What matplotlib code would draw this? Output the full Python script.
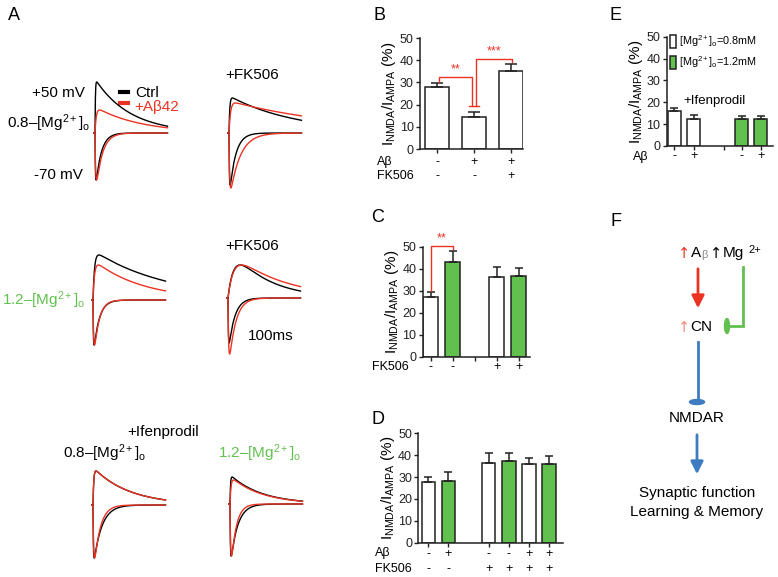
import numpy as np
import matplotlib
matplotlib.use("Agg")
import matplotlib.pyplot as plt
from matplotlib.patches import Ellipse, FancyArrowPatch

plt.rcParams['font.family'] = ['Liberation Sans', 'DejaVu Sans']
plt.rcParams['mathtext.fontset'] = 'custom'
plt.rcParams['mathtext.rm'] = 'Liberation Sans'
plt.rcParams['mathtext.it'] = 'Liberation Sans:italic'
plt.rcParams['mathtext.default'] = 'regular'

W, H = 778, 577
RED = '#ea3323'
GREEN = '#62c04f'
BLUE = '#3d7cc0'
EDGE = '#222222'

# ---- panel A: EPSC traces (peak amplitude, rise and decay in ms) ----
# order: 0.8 Mg, 0.8 Mg+FK506, 1.2 Mg, 1.2 Mg+FK506, 0.8 Mg+Ifen, 1.2 Mg+Ifen
out_amp_ctrl = [51, 35, 45, 33, 34, 27]
out_amp_ab = [23, 30, 35, 33, 34, 24]
out_rise_ctrl = [1.5, 3, 6, 22, 3, 2]
out_rise_ab = [5, 6, 6, 22, 3, 4]
out_decay_ctrl = [140, 270, 300, 140, 144, 125]
out_decay_ab = [180, 460, 195, 200, 144, 125]
in_amp_ctrl = [-47, -52, -45, -45, -53, -52]
in_amp_ab = [-47, -55, -45, -56, -53, -52]
in_decay_ctrl = [22, 24, 22, 24, 32, 28]
in_decay_ab = [25, 40, 20, 26, 24, 20]

# ---- panel B ----
b_vals = [27.8, 14.3, 35.3]
b_errs = [1.9, 2.4, 3.0]
b_abeta = ['-', '+', '+']
b_fk = ['-', '-', '+']

# ---- panel C ----
c_vals = [27.4, 43.0, 36.1, 36.6]
c_errs = [2.0, 5.3, 4.6, 3.8]
c_fk = ['-', '-', '+', '+']

# ---- panel D ----
d_vals = [27.9, 28.4, 36.6, 37.2, 35.8, 35.8]
d_errs = [2.0, 4.1, 4.6, 3.7, 2.8, 3.7]
d_abeta = ['-', '+', '-', '-', '+', '+']
d_fk = ['-', '-', '+', '+', '+', '+']

# ---- panel E ----
e_vals = [15.8, 12.5, 12.2, 12.2]
e_errs = [1.7, 1.8, 1.5, 1.5]
e_abeta = ['-', '+', '-', '+']

YLAB = '$I_{NMDA}/I_{AMPA}$ (%)'


def px_rect(l, t, r, b):
    return [l / W, 1 - b / H, (r - l) / W, (b - t) / H]


def epsc(t, amp, rise, decay):
    y = np.exp(-t / decay) - np.exp(-t / rise)
    y[t < 0] = 0
    return amp * y / y.max()


fig = plt.figure(figsize=(W / 100, H / 100), dpi=100)

# overlay in pixel coordinates for labels and the diagram
ov = fig.add_axes([0, 0, 1, 1])
ov.set_xlim(0, W)
ov.set_ylim(H, 0)
ov.axis('off')

# traces
origins = [(95, 133), (229, 133), (93, 300), (228, 298), (93, 505), (230, 504)]
t = np.linspace(-4, 290, 800)
for i, (x0, base) in enumerate(origins):
    ax = fig.add_axes(px_rect(x0 - 2, base - 60, x0 + 75, base + 70))
    ax.set_xlim(-8, 300)
    ax.set_ylim(-70, 60)
    ax.axis('off')
    ax.plot(t, epsc(t, out_amp_ctrl[i], out_rise_ctrl[i], out_decay_ctrl[i]), color='black', lw=1.0)
    ax.plot(t, epsc(t, out_amp_ab[i], out_rise_ab[i], out_decay_ab[i]), color=RED, lw=1.0)
    ax.plot(t, epsc(t, in_amp_ctrl[i], 1.5, in_decay_ctrl[i]), color='black', lw=1.0)
    ax.plot(t, epsc(t, in_amp_ab[i], 2.5, in_decay_ab[i]), color=RED, lw=1.0)

fs = 11
ov.text(85, 93, '+50 mV', ha='right', va='center', fontsize=fs)
ov.text(7, 123, '0.8–[Mg$^{2+}$]$_o$', ha='left', va='center', fontsize=fs)
ov.text(83, 175, '-70 mV', ha='right', va='center', fontsize=fs)
ov.plot([120, 128], [92, 92], color='black', lw=3)
ov.text(135, 93, 'Ctrl', ha='left', va='center', fontsize=fs)
ov.plot([120, 128], [103, 103], color=RED, lw=3)
ov.text(134, 107, '+Aβ42', ha='left', va='center', fontsize=fs, color=RED)
ov.text(225, 75, '+FK506', ha='left', va='center', fontsize=fs)
ov.text(225, 246, '+FK506', ha='left', va='center', fontsize=fs)
ov.text(2, 300, '1.2–[Mg$^{2+}$]$_o$', ha='left', va='center', fontsize=fs, color=GREEN)
ov.text(248, 336, '100ms', ha='left', va='center', fontsize=fs)
ov.text(127, 432, '+Ifenprodil', ha='left', va='center', fontsize=fs)
ov.text(63, 453, '0.8–[Mg$^{2+}$]$_o$', ha='left', va='center', fontsize=fs)
ov.text(218, 453, '1.2–[Mg$^{2+}$]$_o$', ha='left', va='center', fontsize=fs, color=GREEN)

# panel letters
for s, x, y in [('A', 14, 15), ('B', 380, 15), ('C', 378, 218), ('D', 378, 420),
                ('E', 616, 15), ('F', 616, 222)]:
    ov.text(x, y, s, ha='center', va='center', fontsize=13)


def bar_panel(rect, pos, vals, errs, colors, xlim, ticks, bw, capsize):
    ax = fig.add_axes(px_rect(*rect))
    ax.bar(pos, vals, width=bw, color=colors, edgecolor=EDGE, linewidth=1.1, zorder=2)
    ax.errorbar(pos, vals, yerr=[np.zeros(len(vals)), errs], fmt='none', ecolor=EDGE,
                elinewidth=1.1, capsize=capsize, capthick=1.1, zorder=3)
    ax.set_ylim(0, 50)
    ax.set_yticks(range(0, 51, 10))
    ax.set_xlim(*xlim)
    ax.set_xticks(ticks)
    ax.set_xticklabels([])
    ax.spines['top'].set_visible(False)
    ax.spines['right'].set_visible(False)
    for sp in ['left', 'bottom']:
        ax.spines[sp].set_linewidth(1.1)
        ax.spines[sp].set_color(EDGE)
    ax.tick_params(length=3, width=1.0, labelsize=9, pad=1.5, colors=EDGE)
    ax.set_ylabel(YLAB, fontsize=11, labelpad=1)
    return ax


def row(ax, pos, labels, dy):
    for p, s in zip(pos, labels):
        ax.annotate(s, xy=(p, 0), xycoords=('data', 'axes fraction'), xytext=(0, -dy),
                    textcoords='offset pixels', ha='center', va='center', fontsize=9)


# B
posB = [0, 1, 2]
axB = bar_panel((420, 38, 523, 149), posB, b_vals, b_errs, ['white'] * 3,
                (-0.46, 2.32), posB, 0.65, 4)
row(axB, posB, b_abeta, 13)
row(axB, posB, b_fk, 27)
fig.text(377 / W, 1 - 162 / H, 'Aβ', ha='left', va='center', fontsize=9)
fig.text(377 / W, 1 - 176 / H, 'FK506', ha='left', va='center', fontsize=9)
axB.plot([0.04, 0.04, 0.93, 0.93], [30.2, 32.6, 32.6, 19.5], color=RED, lw=1, zorder=4)
axB.plot([1.05, 1.05, 2.02, 2.02], [19.5, 40.6, 40.6, 39.0], color=RED, lw=1, zorder=4)
axB.plot([0.86, 1.12], [19.5, 19.5], color=RED, lw=1, zorder=4)
axB.text(0.5, 33.2, '**', color=RED, ha='center', va='bottom', fontsize=9)
axB.text(1.55, 41.2, '***', color=RED, ha='center', va='bottom', fontsize=9)

# C
posC = [0, 1, 3, 4]
axC = bar_panel((422.7, 247, 530, 356.7), posC, c_vals, c_errs,
                ['white', GREEN, 'white', GREEN], (-0.37, 4.5), [0, 1, 2, 3, 4], 0.68, 3)
row(axC, posC, c_fk, 10)
fig.text(372 / W, 1 - 366.7 / H, 'FK506', ha='left', va='center', fontsize=9)
axC.plot([0, 0, 1, 1], [29.8, 50.6, 50.6, 49.0], color=RED, lw=1, clip_on=False, zorder=4)
axC.text(0.5, 51.0, '**', color=RED, ha='center', va='bottom', fontsize=9, clip_on=False)

# D
posD = [0, 1, 3, 4, 5, 6]
axD = bar_panel((418.3, 433.3, 563, 542.7), posD, d_vals, d_errs,
                ['white', GREEN] * 3, (-0.5, 6.7), posD, 0.68, 3)
row(axD, posD, d_abeta, 11)
row(axD, posD, d_fk, 26)
fig.text(375 / W, 1 - 553 / H, 'Aβ', ha='left', va='center', fontsize=9)
fig.text(375 / W, 1 - 569 / H, 'FK506', ha='left', va='center', fontsize=9)

# E
posE = [0, 1, 3.5, 4.5]
axE = bar_panel((666.7, 36.7, 773, 146), posE, e_vals, e_errs,
                ['white', 'white', GREEN, GREEN], (-0.4, 5.14), [0, 1, 2.6, 3.5, 4.5], 0.69, 3)
row(axE, posE, e_abeta, 10)
fig.text(633 / W, 1 - 157 / H, 'Aβ', ha='left', va='center', fontsize=9)
hb = axE.patches
axE.legend([hb[0], hb[2]], ['[Mg$^{2+}$]$_o$=0.8mM', '[Mg$^{2+}$]$_o$=1.2mM'],
           loc='upper left', bbox_to_anchor=(0.03, 1.03), frameon=False, fontsize=7.8,
           handlelength=0.55, handleheight=1.5, handletextpad=0.3, labelspacing=0.45,
           borderpad=0, borderaxespad=0)
axE.text(0.45, 20.5, '+Ifenprodil', ha='left', va='center', fontsize=9.5)

# F diagram
ARROWFONT = ['DejaVu Sans']
ov.text(678, 253, '↑', color=RED, ha='left', va='center', fontsize=10.5, family=ARROWFONT)
ov.text(690.5, 253, 'A', ha='left', va='center', fontsize=11)
ov.text(701.5, 255, 'β', color='#888888', ha='left', va='center', fontsize=8)
ov.text(709.5, 253, '↑', ha='left', va='center', fontsize=10.5, family=ARROWFONT)
ov.text(723, 253, 'Mg', ha='left', va='center', fontsize=11)
ov.text(748, 250, '2+', ha='left', va='center', fontsize=8)
ov.add_patch(FancyArrowPatch((698, 266), (698, 311), arrowstyle='-|>,head_length=5,head_width=2.5',
                             color=RED, lw=2, mutation_scale=1.5))
ov.plot([743, 743, 729], [267, 326, 326], color=GREEN, lw=2, solid_joinstyle='miter')
ov.add_patch(Ellipse((727, 326), 5, 15, color=GREEN))
ov.text(678, 327, '↑', color='#f08a80', ha='left', va='center', fontsize=10.5, family=ARROWFONT)
ov.text(690.5, 327, 'CN', ha='left', va='center', fontsize=11)
ov.plot([698, 698], [342, 400], color=BLUE, lw=2)
ov.add_patch(Ellipse((697, 402), 15, 5, color=BLUE))
ov.text(697, 418, 'NMDAR', ha='center', va='center', fontsize=11)
ov.add_patch(FancyArrowPatch((697, 432), (697, 477), arrowstyle='-|>,head_length=5,head_width=2.5',
                             color=BLUE, lw=2, mutation_scale=1.5))
ov.text(697, 493, 'Synaptic function', ha='center', va='center', fontsize=11)
ov.text(697, 512, 'Learning & Memory', ha='center', va='center', fontsize=11)

fig.savefig('out.png', dpi=100)
